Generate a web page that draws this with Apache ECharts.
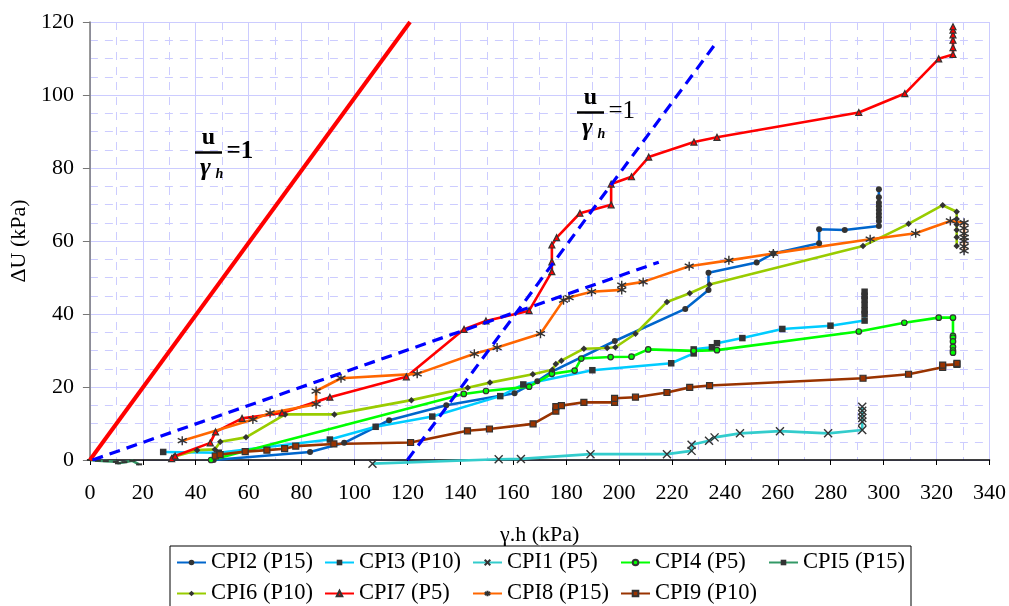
<!DOCTYPE html>
<html>
<head>
<meta charset="utf-8">
<script src="https://cdn.jsdelivr.net/npm/echarts@6/dist/echarts.min.js"></script>
<style>
html,body{margin:0;padding:0;background:#fff;}
#chart{width:1009px;height:606px;}
</style>
</head>
<body>
<div id="chart"></div>
<script>
// ---- Data ----
const xTicks = [0,20,40,60,80,100,120,140,160,180,200,220,240,260,280,300,320,340];
const yTicks = [0,20,40,60,80,100,120];

const seriesNames = ['CPI2 (P15)','CPI3 (P10)','CPI1 (P5)','CPI4 (P5)','CPI5 (P15)','CPI6 (P10)','CPI7 (P5)','CPI8 (P15)','CPI9 (P10)'];

const cpi2X = [46.8,83.2,96.1,113.1,134.7,160.5,169.1,174.6,198.4,225,233.8,233.8,252,258.3,275.6,275.6,285.3,298.2,298.2,298.2,298.2,298.2,298.2,298.2,298.2,298.2];
const cpi2Y = [0,2.2,4.7,10.9,15,18.3,21.6,24.2,32.6,41.4,46.6,51.3,54.1,56.6,59.4,63.2,63,64.1,65.5,66.5,67.5,68.5,69.5,70.5,72,74.2];

const cpi3X = [27.7,48.7,90.7,108,129.4,155.1,163.8,189.9,219.7,228.2,228.2,235.1,237,246.6,261.7,279.9,292.8,292.8,292.8,292.8,292.8,292.8,292.8];
const cpi3Y = [2.2,2.0,5.6,9.1,11.9,17.5,20.7,24.6,26.5,29.2,30.3,30.9,32,33.4,35.9,36.8,38.2,40,41,42.5,44,45,46.1];

const cpi1X = [106.8,154.5,162.9,189.2,218.1,227.4,227.4,234,236.1,245.7,260.8,279,291.9,291.9,291.9,291.9,291.9,291.9];
const cpi1Y = [-1.0,0.2,0.3,1.6,1.6,2.5,4.2,5.3,6.2,7.3,7.9,7.3,8.2,10.5,11.5,12.5,13.5,14.6];

const cpi4X = [45.8,141.3,149.7,166,174.6,183.2,185.7,196.8,204.7,211,228.2,237,290.6,307.8,320.8,326.2,326.2,326.2,326.2,326.2,326.2,326.2];
const cpi4Y = [0,18.1,18.9,20.1,23.6,24.5,27.8,28.2,28.3,30.3,29.9,30.1,35.2,37.6,39,39,34,33.5,32.5,31,30,29.4];

const cpi5X = [0,3,6,9.8,10.6,13,16,18.6];
const cpi5Y = [0,-0.2,-0.3,-0.5,-0.9,-0.6,-0.2,-1.2];

const cpi6X = [31.7,40.5,47.2,49.3,59,73.8,92.4,121.5,142.8,151.2,167.4,174.8,176.1,178.2,186.7,195.5,198.6,206.2,218.1,226.7,234.2,292.2,309.4,322.3,327.6,327.6,327.6,327.6,327.6,327.6];
const cpi6Y = [0.9,2.7,2.9,5.0,6.2,12.5,12.5,16.4,19.8,21.2,23.5,24.7,26.3,27.2,30.5,30.7,30.9,34.6,43.3,45.7,48.1,58.6,64.7,69.8,68,66,64.5,63,61,58.6];

const cpi7X = [30.9,32.2,45.5,47.5,57.5,72.6,90.7,119.6,141.4,149.7,166,174.6,174.6,174.6,176.4,185.2,197,197,204.7,211.2,228.3,237,290.6,308,320.8,326.2,326.2,326.2,326.2,326.2,326.2];
const cpi7Y = [0.4,1.1,4.7,7.7,11.4,12.9,17.2,22.8,35.8,38.1,40.9,51.6,54.3,58.9,60.9,67.6,69.9,75.6,77.6,83,87.1,88.4,95.2,100.4,109.9,111.1,113,115,116.5,117.8,118.7];

const cpi8X = [34.9,61.6,68.1,85.5,85.5,94.9,123.7,145.3,153.9,170.3,179,181.1,189.6,201,201,209.1,226.5,241.5,258.3,294.9,312.1,325.2,330.4,330.4,330.4,330.4,330.4,330.4,330.4];
const cpi8Y = [5.3,11.1,12.9,15.3,18.9,22.4,23.6,29.1,30.8,34.6,43.8,44.5,46.1,46.6,47.9,48.8,53.1,54.7,56.6,60.5,62.1,65.5,65,63.5,62,61,60,58.5,57.3];

const cpi9X = [47.4,49.2,58.7,66.9,73.6,77.8,92.2,121.2,142.7,151,167.5,176.1,176.1,178.2,186.7,198.3,198.3,206.2,218.1,226.7,234.2,292.2,309.4,322.3,322.3,327.7,327.7];
const cpi9Y = [1.1,1.5,2.3,2.7,3.1,3.8,4.4,4.8,8.0,8.5,9.9,13.4,14.6,14.9,15.8,15.8,16.9,17.2,18.5,19.9,20.4,22.4,23.5,25.4,26,26.2,26.5];

// reference lines u/(gamma h)
const refRedX = [0,121];
const refRedY = [0,120];
const refDash1X = [1,215];
const refDash1Y = [0,54.2];
const refDash2X = [120,236.4];
const refDash2Y = [0,114];

// ---- Build ----
function zip(xs, ys){ return xs.map((x,i)=>[x, ys[i]]); }
const FONT = 'Liberation Serif';
const MK = '#333333';
const xPath = 'path://M0,0L10,10M10,0L0,10';
const astPath = 'path://M5,0L5,10M0.7,2.5L9.3,7.5M9.3,2.5L0.7,7.5';
const dashPath = 'path://M0,0H10V3H0Z';

function dataSeries(name, xs, ys, color, symbol, size, itemStyle, extra){
  return Object.assign({
    name: name, type: 'line', data: zip(xs, ys),
    symbol: symbol, symbolSize: size,
    lineStyle: {color: color, width: 2.6},
    itemStyle: itemStyle,
    emphasis: {disabled: true},
    z: 3
  }, extra || {});
}
function refSeries(xs, ys, color, width, type){
  return {
    type: 'line', data: zip(xs, ys), symbol: 'none',
    lineStyle: {color: color, width: width, type: type},
    emphasis: {disabled: true}, z: 5, silent: true
  };
}

const series = [
  dataSeries(seriesNames[0], cpi2X, cpi2Y, '#0066cc', 'circle', 6, {color: MK}),
  dataSeries(seriesNames[1], cpi3X, cpi3Y, '#00ccff', 'rect', 6.5, {color: MK}),
  dataSeries(seriesNames[2], cpi1X, cpi1Y, '#33cccc', xPath, 8, {color: 'none', borderColor: MK, borderWidth: 1.4}, {clip: false}),
  dataSeries(seriesNames[3], cpi4X, cpi4Y, '#00ff00', 'circle', 5.5, {color: '#00ff00', borderColor: MK, borderWidth: 1.2}),
  dataSeries(seriesNames[4], cpi5X, cpi5Y, '#339966', dashPath, [6,2], {color: MK}, {clip: false}),
  dataSeries(seriesNames[5], cpi6X, cpi6Y, '#99cc00', 'diamond', 6.5, {color: MK}),
  dataSeries(seriesNames[6], cpi7X, cpi7Y, '#ff0000', 'triangle', 6, {color: '#ff0000', borderColor: MK, borderWidth: 1.2}),
  dataSeries(seriesNames[7], cpi8X, cpi8Y, '#ff6600', astPath, 9, {color: 'none', borderColor: MK, borderWidth: 1.4}),
  dataSeries(seriesNames[8], cpi9X, cpi9Y, '#993300', 'rect', 6, {color: '#993300', borderColor: MK, borderWidth: 1.2}),
  refSeries(refRedX, refRedY, '#ff0000', 4, 'solid'),
  refSeries(refDash1X, refDash1Y, '#0000ff', 3.2, [11,7]),
  refSeries(refDash2X, refDash2Y, '#0000ff', 3.2, [11,7])
];

const gridColor = '#ccccff';
const chart = echarts.init(document.getElementById('chart'), null, {renderer: 'canvas'});

function fracGraphic(cx, barY, eqText, eqWeight){
  return [
    {type:'text', style:{text:'u', x:cx, y:barY-3, font:'bold 24px "Liberation Serif"', fill:'#000', align:'center', verticalAlign:'bottom'}, z:10},
    {type:'line', shape:{x1:cx-13.5, y1:barY, x2:cx+13.5, y2:barY}, style:{stroke:'#000', lineWidth:2.5}, z:10},
    {type:'text', style:{text:'γ', x:cx-3, y:barY+3, font:'bold italic 26px "Liberation Serif"', fill:'#000', align:'center', verticalAlign:'top'}, z:10},
    {type:'text', style:{text:'h', x:cx+7, y:barY+15, font:'bold italic 14px "Liberation Serif"', fill:'#000', align:'left', verticalAlign:'top'}, z:10},
    {type:'text', style:{text:eqText, x:cx+18, y:barY-1, font:eqWeight+' 25px "Liberation Serif"', fill:'#000', align:'left', verticalAlign:'middle'}, z:10}
  ];
}

chart.setOption({
  animation: false,
  backgroundColor: '#ffffff',
  grid: {left: 89, right: 17, top: 22, bottom: 146, containLabel: false},
  xAxis: {
    type: 'value', min: 0, max: 340, interval: 20,
    name: 'γ.h (kPa)', nameLocation: 'middle', nameGap: 64,
    nameTextStyle: {fontFamily: FONT, fontSize: 22, color: '#000'},
    axisLine: {onZero: false, lineStyle: {color: '#000', width: 1.5}},
    axisTick: {show: true, length: 5, lineStyle: {color: '#000'}},
    axisLabel: {fontFamily: FONT, fontSize: 22, color: '#000', margin: 22,
      formatter: v => xTicks.includes(v) ? String(v) : ''},
    splitLine: {show: true, lineStyle: {color: gridColor, width: 1}},
    minorTick: {show: false, splitNumber: 2},
    minorSplitLine: {show: true, lineStyle: {color: gridColor, width: 1, type: [8,7]}}
  },
  yAxis: {
    type: 'value', min: 0, max: 120, interval: 20,
    name: 'ΔU (kPa)', nameLocation: 'middle', nameGap: 58,
    nameTextStyle: {fontFamily: FONT, fontSize: 22, color: '#000'},
    axisLine: {show: true, onZero: false, lineStyle: {color: '#777', width: 1.5}},
    axisTick: {show: true, length: 7, lineStyle: {color: '#777'}},
    axisLabel: {fontFamily: FONT, fontSize: 22, color: '#000', margin: 16,
      formatter: v => yTicks.includes(v) ? String(v) : ''},
    splitLine: {show: true, lineStyle: {color: gridColor, width: 1}},
    minorTick: {show: false, splitNumber: 4},
    minorSplitLine: {show: true, lineStyle: {color: gridColor, width: 1, type: [8,7]}}
  },
  legend: {
    data: seriesNames,
    left: 170, top: 546, width: 760,
    orient: 'horizontal',
    padding: [5, 3, 5, 6],
    itemGap: 8, itemWidth: 29, itemHeight: 7,
    borderColor: '#000', borderWidth: 1,
    textStyle: {fontFamily: FONT, fontSize: 22.5, color: '#000', lineHeight: 23, width: 105}
  },
  graphic: [].concat(fracGraphic(208.5, 152.5, '=1', 'bold'), fracGraphic(590.5, 112.5, '=1', 'normal')),
  series: series
});
</script>
</body>
</html>
